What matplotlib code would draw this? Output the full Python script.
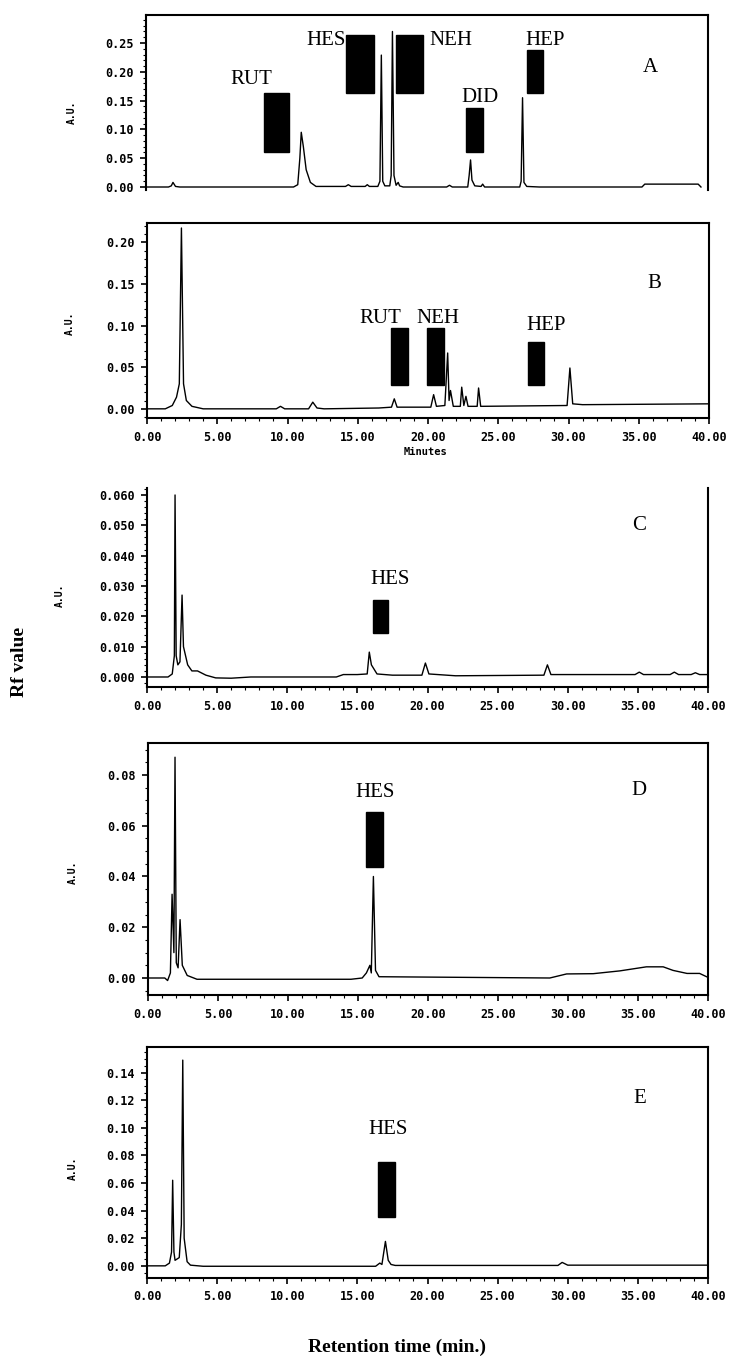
import numpy as np
import matplotlib.pyplot as plt
from matplotlib.patches import Rectangle
from matplotlib.ticker import MultipleLocator, FormatStrFormatter

W, H = 735, 1361

# ---------------- data (time min, absorbance AU) ----------------
a_trace = [(0.0, 0.0), (1.6, 0.0), (1.8, 0.002), (1.92, 0.008), (2.1, 0.001), (2.4, 0.0),
           (10.5, 0.0), (10.8, 0.004), (10.95, 0.05), (11.05, 0.095), (11.2, 0.07), (11.4, 0.03),
           (11.7, 0.008), (12.1, 0.001), (14.2, 0.001), (14.4, 0.004), (14.6, 0.001), (15.6, 0.001),
           (15.75, 0.004), (15.9, 0.001), (16.5, 0.001), (16.65, 0.01), (16.75, 0.229), (16.85, 0.01),
           (17.0, 0.002), (17.35, 0.002), (17.45, 0.02), (17.54, 0.27), (17.65, 0.02), (17.8, 0.003),
           (17.95, 0.008), (18.05, 0.002), (18.3, 0.0), (21.4, 0.0), (21.6, 0.003), (21.8, 0.0),
           (22.9, 0.0), (23.0, 0.02), (23.1, 0.047), (23.2, 0.012), (23.4, 0.002), (23.85, 0.001),
           (23.96, 0.005), (24.1, 0.0), (26.6, 0.0), (26.7, 0.01), (26.8, 0.155), (26.9, 0.008),
           (27.1, 0.001), (28.0, 0.0), (35.3, 0.0), (35.5, 0.005), (39.3, 0.005), (39.5, 0.0)]

b_trace = [(0.0, 0.0), (1.3, 0.0), (1.8, 0.004), (2.1, 0.014), (2.3, 0.03), (2.45, 0.217),
           (2.6, 0.03), (2.8, 0.01), (3.2, 0.003), (4.0, 0.0), (9.2, 0.0), (9.5, 0.003), (9.8, 0.0),
           (11.5, 0.0), (11.8, 0.008), (12.1, 0.001), (12.6, 0.0), (16.5, 0.001), (17.4, 0.002),
           (17.6, 0.012), (17.8, 0.002), (20.2, 0.002), (20.4, 0.017), (20.6, 0.003), (21.2, 0.004),
           (21.4, 0.067), (21.5, 0.01), (21.6, 0.022), (21.8, 0.003), (22.3, 0.003), (22.4, 0.026),
           (22.55, 0.004), (22.7, 0.015), (22.85, 0.003), (23.5, 0.003), (23.6, 0.025), (23.75, 0.003),
           (29.9, 0.004), (30.1, 0.049), (30.3, 0.006), (31.0, 0.005), (40.0, 0.006)]

c_trace = [(0.0, 0.0), (1.5, 0.0), (1.8, 0.001), (1.95, 0.007), (2.0, 0.060), (2.08, 0.007),
           (2.2, 0.004), (2.35, 0.005), (2.5, 0.027), (2.6, 0.01), (2.9, 0.004), (3.2, 0.002),
           (3.6, 0.002), (4.2, 0.0006), (4.9, -0.0003), (6.0, -0.0004), (7.4, 0.0), (13.5, 0.0),
           (14.0, 0.0008), (15.0, 0.0008), (15.7, 0.001), (15.85, 0.0082), (16.0, 0.004),
           (16.4, 0.001), (17.5, 0.0006), (19.6, 0.0006), (19.85, 0.0046), (20.1, 0.001),
           (22.0, 0.0004), (28.3, 0.0006), (28.55, 0.004), (28.8, 0.0008), (34.8, 0.0008),
           (35.1, 0.0016), (35.4, 0.0008), (37.3, 0.0008), (37.6, 0.0016), (37.9, 0.0008),
           (38.8, 0.0008), (39.1, 0.0014), (39.4, 0.0008), (40.0, 0.0008)]

d_trace = [(0.0, 0.0), (1.2, 0.0), (1.4, -0.001), (1.6, 0.002), (1.72, 0.033), (1.85, 0.01),
           (1.93, 0.087), (2.02, 0.006), (2.15, 0.004), (2.29, 0.023), (2.45, 0.005), (2.8, 0.001),
           (3.5, -0.0005), (14.5, -0.0005), (15.3, 0.0), (15.6, 0.002), (15.85, 0.005),
           (15.95, 0.002), (16.1, 0.040), (16.25, 0.003), (16.5, 0.0005), (28.7, 0.0),
           (29.9, 0.0016), (31.8, 0.0017), (33.7, 0.0028), (35.6, 0.0044), (36.8, 0.0044),
           (37.5, 0.003), (38.5, 0.0018), (39.4, 0.0018), (39.9, 0.0005)]

e_trace = [(0.0, 0.0), (1.3, 0.0), (1.6, 0.002), (1.75, 0.01), (1.83, 0.062), (1.92, 0.01),
           (2.0, 0.004), (2.3, 0.006), (2.45, 0.03), (2.55, 0.149), (2.65, 0.02), (2.86, 0.003),
           (3.1, 0.0005), (4.0, -0.0003), (16.3, -0.0003), (16.6, 0.002), (16.75, 0.001),
           (17.0, 0.0177), (17.2, 0.004), (17.4, 0.001), (17.7, 0.0003), (29.3, 0.0003),
           (29.6, 0.0025), (30.0, 0.0005), (40.0, 0.0005)]

# compound markers: name, box (t0, t1, y0, y1), label (t, y)
a_names = ["RUT", "HES", "NEH", "DID", "HEP"]
a_boxes = [(8.41, 10.19, 0.061, 0.163), (14.26, 16.26, 0.163, 0.264), (17.82, 19.68, 0.163, 0.264),
           (22.81, 23.96, 0.061, 0.137), (27.09, 28.23, 0.163, 0.238)]
a_labels = [(7.5, 0.186), (12.8, 0.255), (21.7, 0.255), (23.8, 0.156), (28.4, 0.255)]

b_names = ["RUT", "NEH", "HEP"]
b_boxes = [(17.36, 18.57, 0.029, 0.097), (19.93, 21.14, 0.029, 0.097), (27.14, 28.29, 0.029, 0.080)]
b_labels = [(16.64, 0.109), (20.7, 0.109), (28.4, 0.0995)]

c_names = ["HES"]
c_boxes = [(16.1, 17.2, 0.0145, 0.0254)]
c_labels = [(17.3, 0.032)]

d_names = ["HES"]
d_boxes = [(15.6, 16.8, 0.0437, 0.0654)]
d_labels = [(16.2, 0.073)]

e_names = ["HES"]
e_boxes = [(16.5, 17.7, 0.0357, 0.075)]
e_labels = [(17.2, 0.099)]

# ---------------- layout ----------------
def px_rect(l, t, r, b):
    return [l / W, 1 - b / H, (r - l) / W, (b - t) / H]


panels = [
    # letter, trace, names, boxes, labels, rect(px), ylim, major, minor, fmt, letter pos, AU pos
    ("A", a_trace, a_names, a_boxes, a_labels, (146, 15, 708, 190), (-0.0052, 0.2986), 0.05, 0.01, "%.2f", (35.9, 0.207), (72, 112)),
    ("B", b_trace, b_names, b_boxes, b_labels, (147, 223, 709, 418), (-0.011, 0.223), 0.05, 0.01, "%.2f", (36.1, 0.150), (70, 323)),
    ("C", c_trace, c_names, c_boxes, c_labels, (147, 488, 708, 687), (-0.0033, 0.0623), 0.01, 0.002, "%.3f", (35.1, 0.050), (60, 595)),
    ("D", d_trace, d_names, d_boxes, d_labels, (148, 743, 708, 995), (-0.0067, 0.0926), 0.02, 0.005, "%.2f", (35.1, 0.074), (73, 872)),
    ("E", e_trace, e_names, e_boxes, e_labels, (147, 1047, 708, 1278), (-0.0088, 0.1585), 0.02, 0.005, "%.2f", (35.1, 0.121), (73, 1168)),
]

serif = "Liberation Serif"
mono = "DejaVu Sans Mono"

fig = plt.figure(figsize=(W / 100, H / 100), dpi=100)

for letter, trace, names, boxes, labels, rect, ylim, major, minor, fmt, lpos, aupos in panels:
    ax = fig.add_axes(px_rect(*rect))
    tr = np.array(trace)
    ax.plot(tr[:, 0], tr[:, 1], color="black", lw=1.0)

    for name, (t0, t1, y0, y1), (lx, ly) in zip(names, boxes, labels):
        ax.add_patch(Rectangle((t0, y0), t1 - t0, y1 - y0, facecolor="black", edgecolor="black", zorder=3))
        ax.text(lx, ly, name, ha="center", va="center", fontsize=15, family=serif)

    ax.text(lpos[0], lpos[1], letter, ha="center", va="center", fontsize=15, family=serif)

    ax.set_xlim(0, 40)
    ax.set_ylim(*ylim)
    ax.yaxis.set_major_locator(MultipleLocator(major))
    ax.yaxis.set_minor_locator(MultipleLocator(minor))
    ax.yaxis.set_major_formatter(FormatStrFormatter(fmt))
    ax.xaxis.set_major_locator(MultipleLocator(5))
    ax.xaxis.set_minor_locator(MultipleLocator(1))
    ax.xaxis.set_major_formatter(FormatStrFormatter("%.2f"))
    ax.tick_params(which="major", direction="out", length=4, width=1.2, pad=5, labelsize=8.5)
    ax.tick_params(which="minor", direction="out", length=2.5, width=0.8)
    for lab in ax.get_xticklabels() + ax.get_yticklabels():
        lab.set_family(mono)
        lab.set_fontweight("bold")
    for sp in ax.spines.values():
        sp.set_linewidth(1.5)

    if letter == "A":
        ax.spines["bottom"].set_visible(False)
        ax.tick_params(axis="x", which="both", bottom=False, labelbottom=False)
    if letter == "C":
        ax.spines["top"].set_visible(False)

    fig.text(aupos[0] / W, 1 - aupos[1] / H, "A.U.", rotation=90, ha="center", va="center",
             fontsize=7, family=mono, fontweight="bold")

fig.text(426 / W, 1 - 452 / H, "Minutes", ha="center", va="center", fontsize=7.5,
         family=mono, fontweight="bold")
fig.text(20 / W, 1 - 662 / H, "Rf value", rotation=90, ha="center", va="center",
         fontsize=14, family=serif, fontweight="bold")
fig.text(397 / W, 1 - 1347 / H, "Retention time (min.)", ha="center", va="center",
         fontsize=14, family=serif, fontweight="bold")

fig.savefig("out.png", dpi=100)
